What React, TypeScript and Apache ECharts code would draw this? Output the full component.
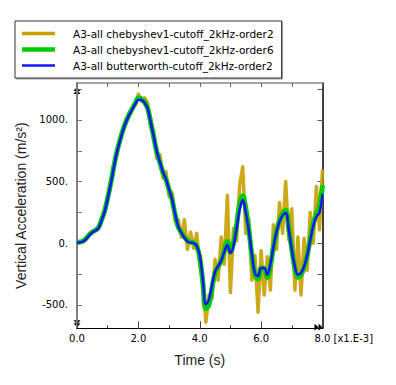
import React, { useEffect, useRef } from "react";
import * as echarts from "echarts";

const timeMs = [
  0.0, 0.1, 0.2, 0.3, 0.4, 0.5, 0.6, 0.7, 0.8, 0.9,
  1.0, 1.1, 1.2, 1.3, 1.4, 1.5, 1.6, 1.7, 1.8, 1.9,
  2.0, 2.1, 2.2, 2.3, 2.4, 2.5, 2.6, 2.7, 2.8, 2.9,
  3.0, 3.1, 3.2, 3.3, 3.4, 3.5, 3.6, 3.7, 3.8, 3.9,
  4.0, 4.1, 4.2, 4.3, 4.4, 4.5, 4.6, 4.7, 4.8, 4.9,
  5.0, 5.1, 5.2, 5.3, 5.4, 5.5, 5.6, 5.7, 5.8, 5.9,
  6.0, 6.1, 6.2, 6.3, 6.4, 6.5, 6.6, 6.7, 6.8, 6.9,
  7.0, 7.1, 7.2, 7.3, 7.4, 7.5, 7.6, 7.7, 7.8, 7.9,
  8.0,
];

const cheby2 = [
  5, 10, 15, 38, 70, 92, 108, 125, 190, 250,
  365, 475, 625, 730, 845, 905, 1000, 1030, 1100, 1120,
  1210, 1150, 1180, 1140, 940, 910, 690, 720, 530, 580,
  380, 410, 180, 190, 50, 190, -50, 90, -40, 80,
  -180, -300, -640, -420, -450, -130, -300, 50, -170, 390,
  -400, 120, 20, 470, 620, 80, 190, -300, -100, -560,
  -60, -420, -110, -380, 150, -50, 330, 80, 500, 30,
  280, -380, 50, -420, 40, -220, 250, 0, 460, 110,
  600,
];

const cheby6 = [
  5, 10, 18, 40, 70, 92, 106, 128, 190, 262,
  368, 488, 622, 742, 836, 920, 990, 1046, 1092, 1138,
  1178, 1172, 1145, 1095, 985, 860, 740, 655, 575, 515,
  435, 350, 228, 130, 88, 50, 20, 10, 5, -25,
  -115, -320, -530, -500, -360, -240, -190, -140, -60, 15,
  -70, 0, 150, 320, 385, 280, 110, -100, -260, -290,
  -200, -205, -275, -185, -35, 95, 185, 240, 265, 120,
  -50, -205, -275, -255, -195, -100, 35, 160, 240, 300,
  470,
];

const butter2 = [
  5, 8, 14, 35, 65, 88, 102, 122, 185, 255,
  360, 480, 615, 735, 830, 915, 985, 1040, 1085, 1130,
  1165, 1162, 1140, 1095, 985, 865, 745, 660, 580, 520,
  440, 355, 235, 135, 85, 45, 15, 5, 0, -20,
  -100, -290, -495, -455, -340, -230, -185, -140, -70, -15,
  -80, -20, 120, 270, 350, 250, 100, -90, -245, -265,
  -200, -200, -255, -170, -30, 90, 175, 225, 245, 110,
  -55, -190, -255, -240, -190, -100, 25, 140, 215, 245,
  400,
];

const seriesNames = [
  "A3-all chebyshev1-cutoff_2kHz-order2",
  "A3-all chebyshev1-cutoff_2kHz-order6",
  "A3-all butterworth-cutoff_2kHz-order2",
];
const seriesColors = ["#c8a000", "#00cc00", "#1414ff"];
const legendIcons = [
  "path://M0 0H33V3.5H0Z",
  "path://M0 0H33V4.5H0Z",
  "path://M0 0H33V2.5H0Z",
];

const xTickLabels = ["0.0", "2.0", "4.0", "6.0", "8.0"];
const yLabelValues = [-500, 0, 500, 1000];
const yTickValues = [-500, -250, 0, 250, 500, 750, 1000, 1250];
const xMin = 0;
const xMax = 8;
const yMin = -690;
const yMax = 1300;
const xScaleNote = "[x1.E-3]";

const pairs = (vals: number[]) => vals.map((v, i) => [timeMs[i], v]);

export default function App() {
  const ref = useRef<HTMLDivElement>(null);
  useEffect(() => {
    if (!ref.current) return;
    const chart = echarts.init(ref.current, null, { renderer: "svg" });
    const tickFont = { fontFamily: "DejaVu Sans", fontSize: 10, color: "#000" };
    chart.setOption({
      animation: false,
      backgroundColor: "#fff",
      grid: { left: 77, top: 83, width: 245.5, height: 245.3, containLabel: false },
      legend: {
        orient: "vertical",
        left: 15,
        top: 21,
        itemWidth: 33,
        itemHeight: 10,
        itemGap: 5,
        padding: [7, 8, 7, 7],
        borderColor: "#333",
        borderWidth: 1,
        backgroundColor: "#fff",
        shadowColor: "#999",
        shadowOffsetX: 1,
        shadowOffsetY: 1,
        shadowBlur: 0,
        symbolKeepAspect: true,
        textStyle: { fontFamily: "DejaVu Sans", fontSize: 10.5, color: "#000", padding: [0, 0, 0, 13] },
        data: seriesNames.map((name, i) => ({
          name,
          icon: legendIcons[i],
          itemStyle: { color: seriesColors[i] },
        })),
      },
      xAxis: [
        {
          type: "value",
          position: "bottom",
          min: xMin,
          max: xMax,
          interval: 2,
          name: "Time (s)",
          nameLocation: "middle",
          nameGap: 25,
          nameTextStyle: { fontFamily: "Liberation Sans", fontSize: 14, color: "#222" },
          axisLine: { show: true, onZero: false, lineStyle: { color: "#000", width: 1.2 } },
          axisTick: { show: true, inside: true, length: 7, lineStyle: { color: "#444" } },
          minorTick: { show: true, splitNumber: 2, length: 3, lineStyle: { color: "#444" } },
          splitLine: { show: false },
          minorSplitLine: { show: false },
          axisLabel: {
            ...tickFont,
            margin: 5,
            formatter: (v: number) => xTickLabels[Math.round(v / 2)] ?? v.toFixed(1),
          },
        },
        {
          type: "value",
          position: "top",
          min: xMin,
          max: xMax,
          interval: 1,
          axisLine: { show: true, onZero: false, lineStyle: { color: "#8a8a80", width: 1.5 } },
          axisTick: { show: true, inside: true, length: 4, lineStyle: { color: "#666" } },
          splitLine: { show: false },
          axisLabel: { show: false },
        },
      ],
      yAxis: [
        {
          type: "value",
          position: "left",
          min: yMin,
          max: yMax,
          name: "Vertical Acceleration (m/s²)",
          nameLocation: "middle",
          nameGap: 45,
          nameTextStyle: { fontFamily: "Liberation Sans", fontSize: 14, color: "#222" },
          axisLine: { show: true, onZero: false, lineStyle: { color: "#808080", width: 2 } },
          axisTick: {
            show: true,
            inside: true,
            length: 5,
            customValues: yTickValues,
            lineStyle: { color: "#777" },
          },
          splitLine: { show: false },
          axisLabel: {
            ...tickFont,
            margin: 9,
            customValues: yLabelValues,
            formatter: (v: number) => `${v}.`,
          },
        },
        {
          type: "value",
          position: "right",
          min: yMin,
          max: yMax,
          axisLine: { show: true, onZero: false, lineStyle: { color: "#000", width: 1.5 } },
          axisTick: {
            show: true,
            inside: true,
            length: 5,
            customValues: yTickValues,
            lineStyle: { color: "#555" },
          },
          splitLine: { show: false },
          axisLabel: { show: false },
        },
      ],
      series: [
        {
          name: seriesNames[0],
          type: "line",
          symbol: "none",
          smooth: false,
          color: seriesColors[0],
          lineStyle: { color: seriesColors[0], width: 3.5, opacity: 0.9, join: "round" },
          data: pairs(cheby2),
        },
        {
          name: seriesNames[1],
          type: "line",
          symbol: "none",
          smooth: 0.4,
          color: seriesColors[1],
          lineStyle: { color: seriesColors[1], width: 5 },
          data: pairs(cheby6),
        },
        {
          name: seriesNames[2],
          type: "line",
          symbol: "none",
          smooth: 0.4,
          color: seriesColors[2],
          lineStyle: { color: seriesColors[2], width: 2.5 },
          data: pairs(butter2),
        },
      ],
    });

    const tl = chart.convertToPixel({ xAxisIndex: 0, yAxisIndex: 0 }, [xMin, yMax]) as number[];
    const br = chart.convertToPixel({ xAxisIndex: 0, yAxisIndex: 0 }, [xMax, yMin]) as number[];
    const x0 = tl[0];
    const yt = tl[1];
    const xr = br[0];
    const yb = br[1];
    const black = { fill: "#000" };
    const upArrow = (tipY: number) => ({
      type: "polygon",
      shape: { points: [[x0, tipY], [x0 - 3.5, tipY + 4], [x0 + 3.5, tipY + 4]] },
      style: black,
      silent: true,
    });
    const downArrow = (tipY: number) => ({
      type: "polygon",
      shape: { points: [[x0, tipY], [x0 - 3.5, tipY - 4], [x0 + 3.5, tipY - 4]] },
      style: black,
      silent: true,
    });
    const rightArrow = (tipX: number) => ({
      type: "polygon",
      shape: { points: [[tipX, yb - 1], [tipX - 4, yb - 4.5], [tipX - 4, yb + 2.5]] },
      style: black,
      silent: true,
    });
    chart.setOption({
      graphic: [
        upArrow(yt + 4),
        upArrow(yt + 7),
        downArrow(yb - 1),
        downArrow(yb - 4),
        rightArrow(xr),
        rightArrow(xr - 4),
        {
          type: "text",
          x: xr + 11,
          y: yb + 5,
          style: { text: xScaleNote, fontFamily: "DejaVu Sans", fontSize: 10, fill: "#000" },
          silent: true,
        },
      ],
    });
    return () => chart.dispose();
  }, []);
  return (
    <div
      ref={ref}
      style={{ position: "fixed", left: 0, top: 0, width: 396, height: 385 }}
    />
  );
}
